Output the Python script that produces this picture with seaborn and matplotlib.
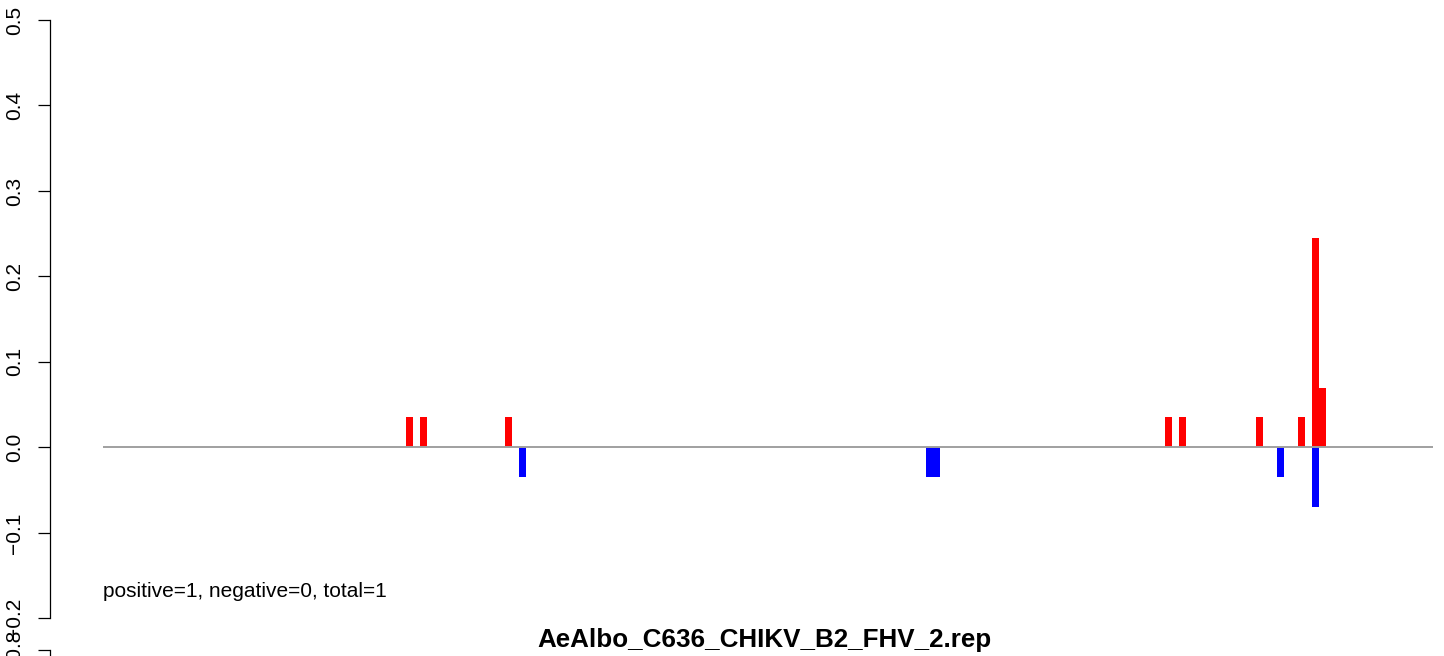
import matplotlib
matplotlib.use("Agg")
import matplotlib.pyplot as plt
import seaborn as sns

# positions along the sequence and read fractions
pos_x = [44, 46, 58, 152, 154, 165, 171, 173, 174]
pos_y = [0.035, 0.035, 0.035, 0.035, 0.035, 0.035, 0.035, 0.245, 0.07]
neg_x = [60, 118, 119, 168, 173]
neg_y = [-0.035, -0.035, -0.035, -0.035, -0.07]
y_ticks = [-0.2, -0.1, 0.0, 0.1, 0.2, 0.3, 0.4, 0.5]
title = "AeAlbo_C636_CHIKV_B2_FHV_2.rep"
note = "positive=1, negative=0, total=1"

plt.rcParams['font.family'] = ['Liberation Sans', 'DejaVu Sans']

W, H = 1444, 656
fig = plt.figure(figsize=(W / 100, H / 100), dpi=100)

# main panel: 0.5 at y=20px, -0.2 at y=618px, left spine at x=50px
ax = fig.add_axes([50 / W, (H - 618.3) / H, (W - 50) / W, (618.3 - 20) / H])

sns.barplot(x=pos_x, y=pos_y, native_scale=True, orient="x", width=1.0,
            color="red", saturation=1, errorbar=None, linewidth=0, ax=ax)
sns.barplot(x=neg_x, y=neg_y, native_scale=True, orient="x", width=1.0,
            color="blue", saturation=1, errorbar=None, linewidth=0, ax=ax)
ax.hlines(0, 0.3, 189.7, color="#a0a0a0", lw=1.4, zorder=5)

ax.set_xlim(-7.26, 191.3)
ax.set_ylim(-0.2, 0.5)
ax.set_xlabel("")
ax.set_ylabel("")
ax.set_xticks([])
for s in ["top", "right", "bottom"]:
    ax.spines[s].set_visible(False)
ax.spines["left"].set_bounds(-0.2, 0.5)
ax.spines["left"].set_linewidth(0.9)
ax.set_yticks(y_ticks)
ax.set_yticklabels([f"{v:.1f}".replace("-", "\u2212") for v in y_ticks],
                   rotation=90, va="center", fontsize=15)
ax.tick_params(axis="y", direction="out", length=8.6, width=0.9, pad=10)

ax.text(0.3, -0.169, note, fontsize=15, ha="left", va="center")
fig.text(764 / W, 1 - 640 / H, title, fontsize=18.7, fontweight="bold",
         ha="center", va="center")

# top of the next panel, cut off by the image edge
ax2 = fig.add_axes([50 / W, -0.3, 0.3, 0.3 + 6 / H])
ax2.patch.set_visible(False)
ax2.set_ylim(-1.5, -0.8)
ax2.set_yticks([-0.8])
ax2.set_yticklabels(["\u22120.8"], rotation=90, va="center", fontsize=15)
ax2.tick_params(axis="y", direction="out", length=8.6, width=0.9, pad=10)
ax2.set_xticks([])
for s in ["top", "right", "bottom"]:
    ax2.spines[s].set_visible(False)
ax2.spines["left"].set_linewidth(0.9)

fig.savefig("out.png", dpi=100)
